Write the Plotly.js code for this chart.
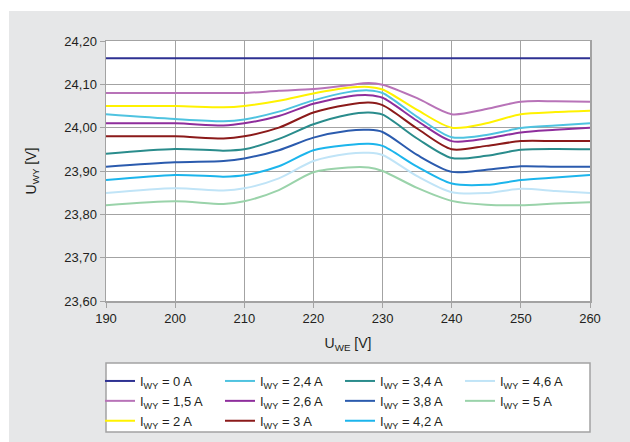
<!DOCTYPE html>
<html>
<head>
<meta charset="utf-8">
<script src="https://cdn.plot.ly/plotly-3.0.1.min.js"></script>
<style>
  html, body { margin: 0; padding: 0; background: #ffffff; }
  #chart { position: absolute; left: 9px; top: 11px; width: 621px; height: 431px; }
</style>
</head>
<body>
<div id="chart"></div>
<script>
// U_WE [V]
const uWE = [190, 200, 207, 210, 215, 220, 225, 228, 230, 235, 240, 245, 250, 255, 260];

// U_WY [V] for each load current I_WY
const i0   = [24.16, 24.16, 24.16, 24.16, 24.16, 24.16, 24.16, 24.16, 24.16, 24.16, 24.16, 24.16, 24.16, 24.16, 24.16];
const i1_5 = [24.08, 24.08, 24.08, 24.08, 24.085, 24.089, 24.098, 24.103, 24.099, 24.068, 24.031, 24.043, 24.06, 24.061, 24.06];
const i2   = [24.05, 24.05, 24.047, 24.05, 24.062, 24.079, 24.092, 24.094, 24.088, 24.041, 24.0, 24.01, 24.031, 24.036, 24.039];
const i2_4 = [24.031, 24.02, 24.015, 24.019, 24.037, 24.063, 24.082, 24.086, 24.08, 24.025, 23.978, 23.983, 23.999, 24.005, 24.01];
const i2_6 = [24.01, 24.01, 24.005, 24.01, 24.027, 24.055, 24.072, 24.075, 24.069, 24.016, 23.969, 23.975, 23.989, 23.995, 24.0];
const i3   = [23.98, 23.98, 23.975, 23.98, 24.0, 24.035, 24.053, 24.058, 24.052, 23.998, 23.95, 23.958, 23.969, 23.969, 23.969];
const i3_4 = [23.94, 23.951, 23.947, 23.95, 23.974, 24.008, 24.03, 24.035, 24.03, 23.975, 23.93, 23.935, 23.949, 23.951, 23.95];
const i3_8 = [23.91, 23.92, 23.923, 23.929, 23.948, 23.977, 23.993, 23.995, 23.99, 23.937, 23.898, 23.903, 23.911, 23.91, 23.91];
const i4_2 = [23.879, 23.891, 23.887, 23.89, 23.911, 23.948, 23.96, 23.963, 23.958, 23.91, 23.871, 23.868, 23.879, 23.885, 23.891];
const i4_6 = [23.849, 23.86, 23.855, 23.86, 23.883, 23.923, 23.94, 23.942, 23.937, 23.888, 23.851, 23.849, 23.859, 23.854, 23.849];
const i5   = [23.821, 23.83, 23.824, 23.83, 23.856, 23.897, 23.908, 23.908, 23.9, 23.861, 23.831, 23.822, 23.821, 23.825, 23.828];

const seriesNames = ["0 A", "1,5 A", "2 A", "2,4 A", "2,6 A", "3 A", "3,4 A", "3,8 A", "4,2 A", "4,6 A", "5 A"];
const seriesValues = [i0, i1_5, i2, i2_4, i2_6, i3, i3_4, i3_8, i4_2, i4_6, i5];
const seriesColors = ["#2e3192", "#b873b8", "#fff200", "#4fc3e0", "#8e2e9c", "#8b1a1a",
                      "#2a8c8c", "#2b5bae", "#1cb5ec", "#c0e4f7", "#9ad3aa"];
const legendGroups = ["legend", "legend", "legend", "legend2", "legend2", "legend2",
                      "legend3", "legend3", "legend3", "legend4", "legend4"];

const yTicks = [23.6, 23.7, 23.8, 23.9, 24.0, 24.1, 24.2];
const yTickText = ["23,60", "23,70", "23,80", "23,90", "24,00", "24,10", "24,20"];
const xTicks = [190, 200, 210, 220, 230, 240, 250, 260];

const FONT = "Liberation Sans, Arial, sans-serif";

const traces = seriesNames.map((n, k) => ({
  x: uWE,
  y: seriesValues[k],
  type: "scatter",
  mode: "lines",
  name: "I<sub>WY</sub> = " + n,
  line: { color: seriesColors[k], width: 2, shape: "spline", smoothing: 0.8 },
  legend: legendGroups[k],
  hoverinfo: "skip"
}));

function leg(x) {
  return {
    xref: "paper", yref: "paper",
    x: x, y: -0.25, xanchor: "left", yanchor: "top",
    orientation: "v",
    bgcolor: "rgba(0,0,0,0)",
    borderwidth: 0,
    font: { family: FONT, size: 13, color: "#231f20" },
    tracegroupgap: 0,
    itemwidth: 30
  };
}

const gridColor = "#a3a3a3";

const layout = {
  width: 621,
  height: 431,
  margin: { l: 97, r: 40, t: 30, b: 141, pad: 0, autoexpand: false },
  paper_bgcolor: "#e6e7e8",
  plot_bgcolor: "#ffffff",
  font: { family: FONT, size: 13, color: "#231f20" },
  showlegend: true,
  legend: leg(-0.0124),
  legend2: leg(0.2355),
  legend3: leg(0.4835),
  legend4: leg(0.7314),
  xaxis: {
    range: [190, 260],
    tickvals: xTicks,
    ticktext: xTicks.map(String),
    showgrid: true, gridcolor: gridColor, gridwidth: 1,
    showline: true, linecolor: gridColor, linewidth: 1.5, mirror: true,
    ticks: "outside", ticklen: 5, tickcolor: gridColor,
    zeroline: false,
    automargin: false,
    tickfont: { family: FONT, size: 13, color: "#231f20" },
    title: { text: "U<sub>WE</sub> [V]", font: { family: FONT, size: 14, color: "#231f20" }, standoff: 13 }
  },
  yaxis: {
    range: [23.6, 24.2],
    tickvals: yTicks,
    ticktext: yTickText,
    showgrid: true, gridcolor: gridColor, gridwidth: 1,
    showline: true, linecolor: gridColor, linewidth: 1.5, mirror: true,
    ticks: "outside", ticklen: 5, tickcolor: gridColor,
    zeroline: false,
    automargin: false,
    tickfont: { family: FONT, size: 13, color: "#231f20" },
    title: { text: "U<sub>WY</sub> [V]", font: { family: FONT, size: 14, color: "#231f20" }, standoff: 24 }
  },
  shapes: [{
    type: "rect", xref: "paper", yref: "paper",
    x0: 0, x1: 1, y0: -0.5038, y1: -0.2385,
    fillcolor: "#ffffff",
    line: { color: "#a3a3a3", width: 1.5 },
    layer: "below"
  }]
};

Plotly.newPlot("chart", traces, layout, { displayModeBar: false, staticPlot: true });
</script>
</body>
</html>
